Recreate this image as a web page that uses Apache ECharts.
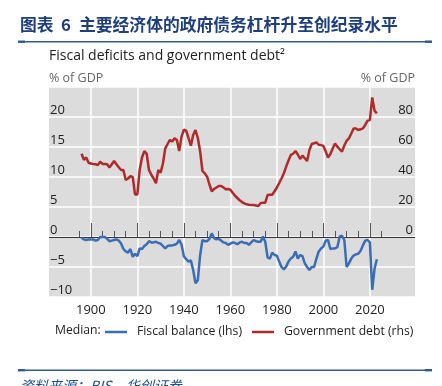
<!DOCTYPE html>
<html><head><meta charset="utf-8">
<script src="https://cdn.jsdelivr.net/npm/echarts@6/dist/echarts.min.js"></script>
<style>html,body{margin:0;padding:0;background:#fff}#c{width:442px;height:386px}</style>
</head><body><div id="c"></div>
<script>
// ---- data ----
const startYear = 1896;
const fiscalBalance = [
-0.1,-0.4,-0.5,-0.4,-0.4,-0.4,-0.6,-0.5,0,0,0,-0.3,-0.7,-0.6,-0.5,-0.4,-0.6,-1.1,-2.0,-2.4,
-2.6,-2.0,-3.3,-2.8,-3.2,-1.9,-2.0,-1.5,-1.2,-0.7,-0.9,-0.9,-0.8,-1.0,-1.1,-1.5,-1.9,-1.5,-1.4,-1.4,
-1.3,-1.1,-0.5,-1.3,-3.2,-3.7,-4.1,-3.9,-5.5,-7.7,-7.2,-3.0,-0.5,-0.7,-0.7,-0.3,0.6,-0.2,-0.4,-0.3,
-0.6,-0.9,-1.0,-1.3,-1.1,-0.9,-1.0,-1.2,-0.9,-0.8,-1.0,-1.0,-1.3,-0.9,-0.5,-0.7,-0.8,-0.8,0.1,-0.8,
-3.4,-3.6,-2.6,-3.0,-3.1,-4.1,-5.0,-5.4,-4.9,-4.1,-3.6,-3.3,-2.4,-3.6,-3.0,-3.2,-4.4,-5.0,-5.5,-5.0,
-5.0,-3.6,-2.4,-1.9,-1.6,-0.6,-0.5,-2.0,-1.9,-1.9,-1.7,0.1,0.2,-0.5,-5.0,-4.4,-3.6,-3.1,-2.9,-2.8,
-2.3,-1.4,-0.6,-0.5,-0.9,-8.8,-5.3,-3.7
];
const governmentDebt = [
55.5,51.5,53,49.5,49,48.7,48.5,48,50.2,48.7,48.7,48.5,46.4,48.5,50.7,48.5,46.5,44.7,44.7,38,
39,40.5,40,28.4,28.4,44.7,53,57.3,55.5,44.7,41.5,39,35.8,44.7,42.9,49,59.1,62,64.7,63.6,
65.8,64.7,57.3,66.9,71.5,70.9,66,60.9,68,71.3,66,57,44,42.4,40.2,35,30.5,32,33,34,
34,33.1,31.8,32,31.5,29.5,27.5,26,24.5,23.3,22.4,21.8,21.5,21.3,21.3,21,20.7,22.5,22.9,22.9,
28,28.2,28.2,30.5,33,36,39,42.5,46.9,51,54.7,55.5,57.3,55,52,54.2,52.5,50.7,58,62,
62.5,63.1,61.5,61.3,60.7,57,52.9,55.3,59,62.4,60.2,58.5,56.9,61,64.2,65.8,69,72.4,72.4,71.3,
71.8,72.4,74.7,77.6,78,93,84.2,82.4
];
const majorTickYears = [1900,1920,1940,1960,1980,2000,2020];
const minorTickYears = [1895,1900,1905,1910,1915,1920,1925,1930,1935,1940,1945,1950,1955,1960,1965,1970,1975,1980,1985,1990,1995,2000,2005,2010,2015,2020,2025];
const leftLabels = [-10,-5,0,5,10,15,20];
const rightLabels = [0,20,40,60,80];
const seriesNames = ['Fiscal balance (lhs)','Government debt (rhs)'];

const years = fiscalBalance.map((_, i) => startYear + i);
const fiscalData = years.map((y, i) => [y, fiscalBalance[i]]);
const debtData = governmentDebt.map((v, i) => [startYear + i, v]);

const FONT = '"Open Sans", "Noto Sans", sans-serif';
const CJK = '"Noto Sans CJK SC", sans-serif';
const BLUE = '#3a6db5';
const RED = '#b02a2c';
const fmtNum = v => String(v).replace('-', '\u2212');

const chart = echarts.init(document.getElementById('c'), null, {renderer: 'canvas'});
chart.setOption({
  animation: false,
  backgroundColor: '#fff',
  textStyle: {fontFamily: FONT},
  grid: {left: 49, right: 27, top: 87, bottom: 89, show: true, backgroundColor: '#dcdcdc', borderWidth: 0},
  xAxis: [{
    type: 'value', min: 1882, max: 2039.4,
    axisLine: {show: false},
    axisTick: {show: true, customValues: majorTickYears, inside: true, length: 14, lineStyle: {color: '#555', width: 1}},
    axisLabel: {customValues: majorTickYears, margin: 7, color: '#222', fontSize: 13, fontFamily: FONT,
      formatter: v => String(v)},
    splitLine: {show: true, lineStyle: {color: '#fff', width: 1.5}}
  }, {
    type: 'value', min: 1882, max: 2039.4, position: 'bottom',
    axisLine: {show: false},
    axisTick: {show: true, customValues: minorTickYears, inside: true, length: 6, lineStyle: {color: '#555', width: 1}},
    axisLabel: {show: false},
    splitLine: {show: false}
  }],
  yAxis: [{
    type: 'value', min: -10, max: 25, interval: 5, position: 'left',
    axisLine: {show: false}, axisTick: {show: false},
    axisLabel: {inside: true, margin: 1, verticalAlign: 'bottom', color: '#222', fontSize: 13, fontFamily: FONT,
      formatter: v => leftLabels.includes(v) ? fmtNum(v) : ''},
    splitLine: {show: true, lineStyle: {color: '#fff', width: 1.5}}
  }, {
    type: 'value', min: -40, max: 100, interval: 20, position: 'right',
    axisLine: {show: false}, axisTick: {show: false},
    axisLabel: {inside: true, margin: 2, verticalAlign: 'bottom', color: '#222', fontSize: 13, fontFamily: FONT,
      formatter: v => rightLabels.includes(v) ? fmtNum(v) : ''},
    splitLine: {show: false}
  }],
  legend: {
    data: seriesNames, left: 105, top: 326, padding: 0, icon: 'rect', itemWidth: 22, itemHeight: 2.5, itemGap: 10,
    textStyle: {color: '#222', fontSize: 12.2, fontFamily: FONT, padding: [0, 0, 0, 5]}
  },
  series: [{
    name: seriesNames[0], type: 'line', xAxisIndex: 0, yAxisIndex: 0, data: fiscalData,
    showSymbol: false, symbol: 'none', lineStyle: {color: BLUE, width: 2.5}, itemStyle: {color: BLUE}, z: 3,
    markLine: {silent: true, symbol: 'none', label: {show: false}, lineStyle: {color: '#333', width: 1.2, type: 'solid'},
      data: [{yAxis: 0}], z: 2}
  }, {
    name: seriesNames[1], type: 'line', xAxisIndex: 0, yAxisIndex: 1, data: debtData,
    showSymbol: false, symbol: 'none', lineStyle: {color: RED, width: 2.5}, itemStyle: {color: RED}, z: 3
  }],
  graphic: [
    {type: 'text', left: 20, top: 16, style: {text: '图表', fontSize: 16.8, fontWeight: 'bold', fill: '#1f3f7c', fontFamily: CJK}},
    {type: 'text', left: 61, top: 16, style: {text: '6', fontSize: 16.8, fontWeight: 'bold', fill: '#1f3f7c', fontFamily: CJK}},
    {type: 'text', left: 79, top: 16, style: {text: '主要经济体的政府债务杠杆升至创纪录水平', fontSize: 16.8, fontWeight: 'bold', fill: '#1f3f7c', fontFamily: CJK}},
    {type: 'rect', shape: {x: 18, y: 41, width: 414, height: 1.4}, style: {fill: '#2d5b98'}},
    {type: 'rect', shape: {x: 18, y: 40.5, width: 7, height: 2.4}, style: {fill: '#2d5b98'}},
    {type: 'rect', shape: {x: 425, y: 40.5, width: 7, height: 2.4}, style: {fill: '#2d5b98'}},
    {type: 'text', left: 49, top: 49, style: {text: 'Fiscal deficits and government debt\u00b2', fontSize: 14, fill: '#222', fontFamily: FONT}},
    {type: 'text', left: 49, top: 72, style: {text: '% of GDP', fontSize: 12.5, fill: '#666', fontFamily: FONT}},
    {type: 'text', right: 27, top: 72, style: {text: '% of GDP', fontSize: 12.5, fill: '#666', fontFamily: FONT}},
    {type: 'text', left: 55, top: 325, style: {text: 'Median:', fontSize: 12.2, fill: '#222', fontFamily: FONT}},
    {type: 'rect', shape: {x: 18, y: 369.5, width: 414, height: 1.4}, style: {fill: '#2d5b98'}},
    {type: 'rect', shape: {x: 18, y: 369, width: 7, height: 2.4}, style: {fill: '#2d5b98'}},
    {type: 'rect', shape: {x: 425, y: 369, width: 7, height: 2.4}, style: {fill: '#2d5b98'}},
    {type: 'text', left: 20, top: 379, style: {text: '资料来源：BIS，华创证券', fontSize: 14, fontStyle: 'italic', fill: '#1f4e8c', fontFamily: CJK}}
  ]
});
</script></body></html>
